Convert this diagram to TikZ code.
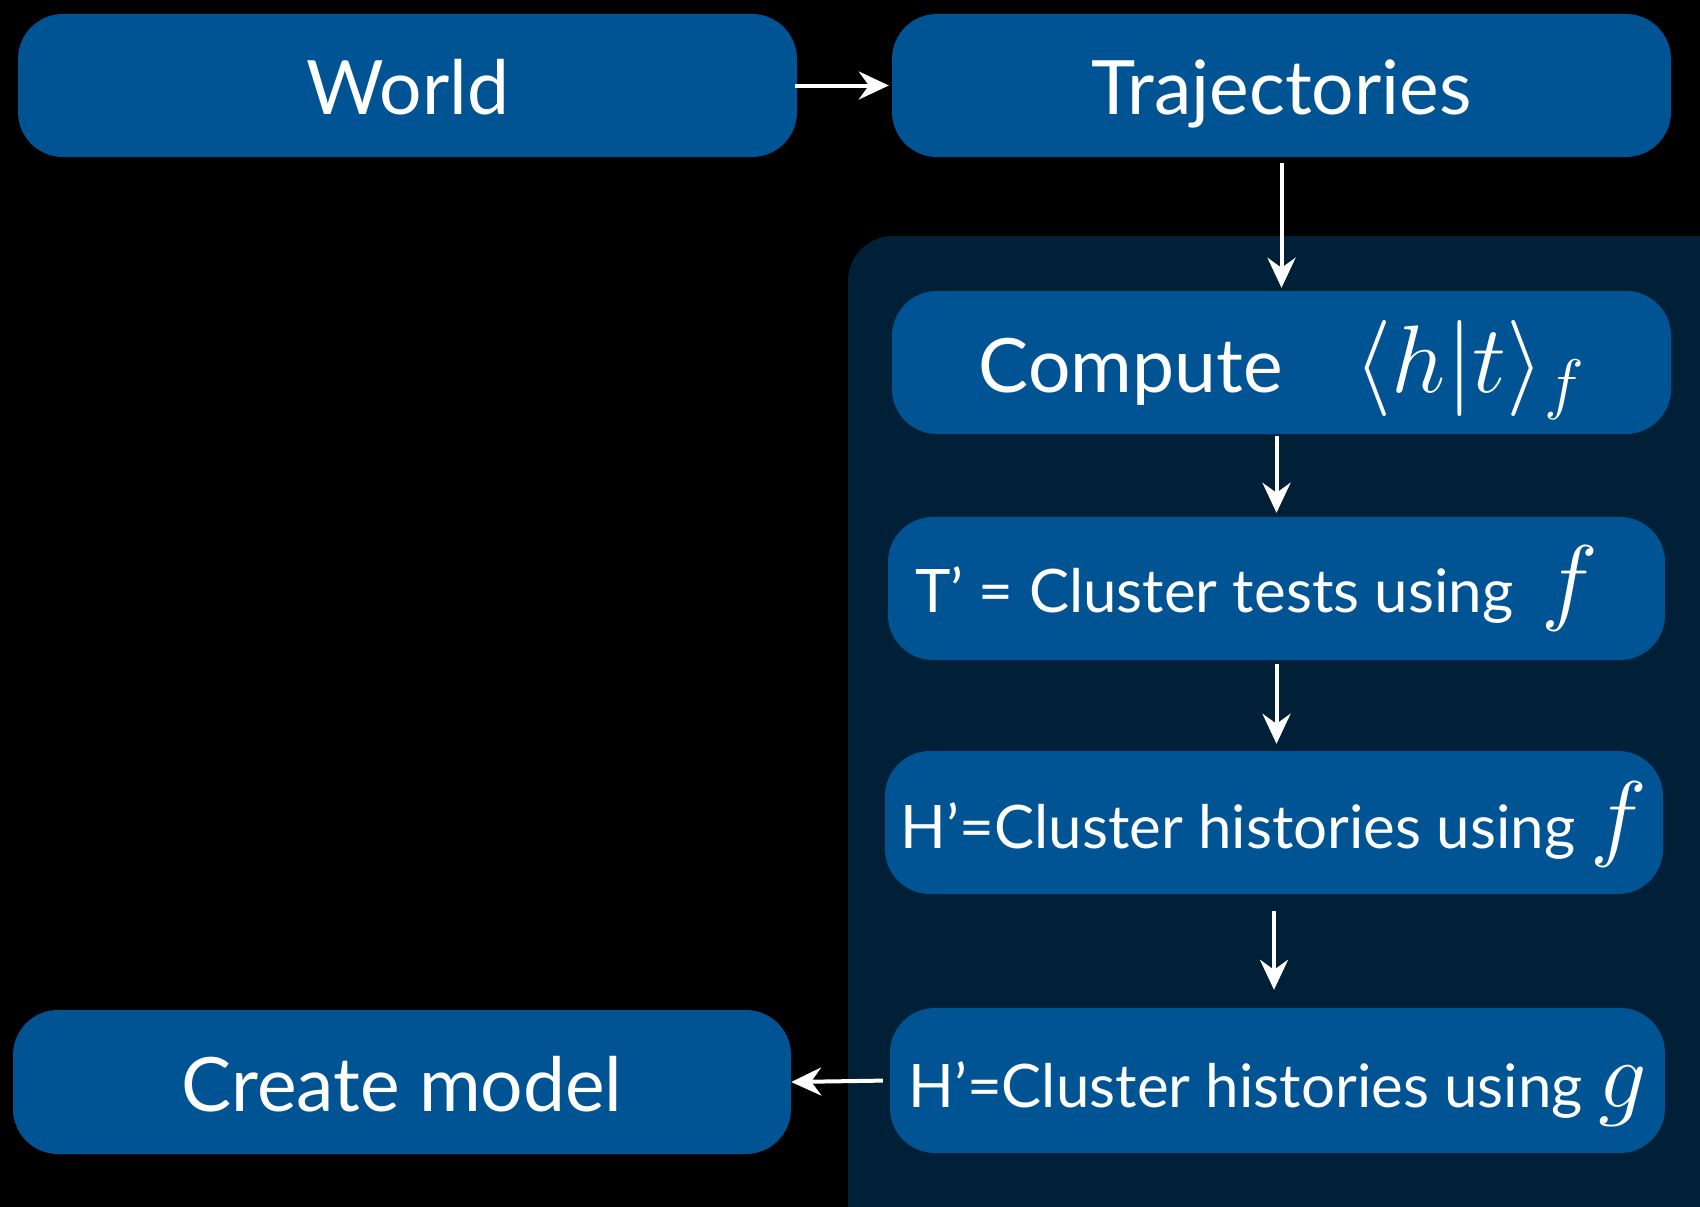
\documentclass[tikz,border=0pt]{standalone}
\usepackage{fix-cm}
\usepackage{fontspec}
\setmainfont{Lato}
\usetikzlibrary{arrows.meta,calc}
\definecolor{boxblue}{RGB}{0,84,148}
\definecolor{panelnavy}{RGB}{0,32,56}
\tikzset{
  blockbox/.style={fill=boxblue, draw=none, rounded corners=45pt, text=white,
    minimum height=143pt, inner sep=0pt, text depth=0pt},
  bigtext/.style={font=\fontsize{75}{80}\selectfont},
  midtext/.style={font=\fontsize{60}{66}\selectfont},
  arr/.style={draw=white, line width=4pt, -{Stealth[length=30pt,width=28pt,inset=10pt]}}
}
\newcommand{\bigmath}[1]{{\fontsize{96}{100}\selectfont$#1$}}
\begin{document}
\begin{tikzpicture}[x=1pt,y=-1pt]
\useasboundingbox (0,0) rectangle (1700,1207);
\fill[black] (0,0) rectangle (1700,1207);
\begin{scope}
\clip (0,0) rectangle (1700,1207);
\fill[panelnavy, rounded corners=45pt] (848,236) rectangle (1760,1260);
\end{scope}
\node[blockbox, bigtext, minimum width=779pt, text height=57pt] (world) at (407.5,85.5) {World};
\node[blockbox, bigtext, minimum width=779pt, text height=57pt] (traj) at (1281.5,85.5) {Trajectories};
\node[blockbox, bigtext, minimum width=779pt, text height=60pt] (comp) at (1281.5,362.5) {Compute\hspace{72pt}\bigmath{\langle h|t\rangle_f}};
\node[blockbox, midtext, minimum width=777pt, text height=48pt] (tp) at (1276.5,588.5) {T’ = Cluster tests using\hspace{28pt}\bigmath{f}\hspace{40pt}\mbox{}};
\node[blockbox, midtext, minimum width=778pt, text height=51pt] (hf) at (1274,822.5) {H’=Cluster histories using \bigmath{f}};
\node[blockbox, midtext, minimum width=775pt, minimum height=145pt, text height=53pt] (hg) at (1277.5,1080.5) {H’=Cluster histories using \bigmath{g}};
\node[blockbox, bigtext, minimum width=778pt, minimum height=144pt, text height=58pt] (cm) at (402,1082) {Create model};
\draw[arr, shorten <=-2pt, shorten >=3pt] (world.east) -- (traj.west);
\draw[arr, shorten <=6pt, shorten >=3pt] (traj.south) -- (traj.south |- comp.north);
\draw[arr, shorten <=2pt, shorten >=4pt] (comp.south -| tp.north) -- (tp.north);
\draw[arr, shorten <=4pt, shorten >=7pt] (tp.south) -- (tp.south |- hf.north);
\draw[arr, shorten <=17pt, shorten >=18pt] (hf.south) -- (hf.south |- hg.north);
\draw[arr, shorten <=7pt, shorten >=0pt] (hg.west) -- (cm.east);
\end{tikzpicture}
\end{document}
